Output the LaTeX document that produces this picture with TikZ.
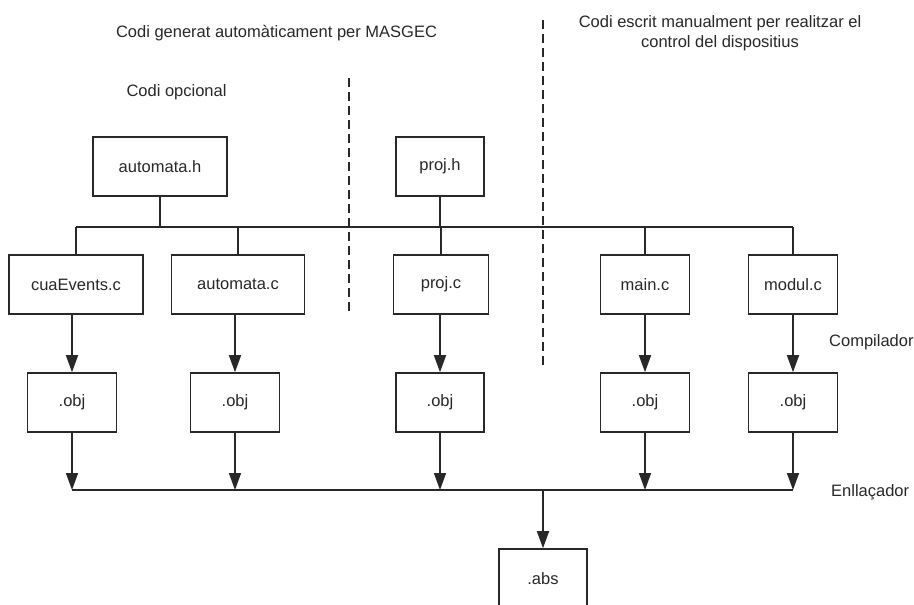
\documentclass[tikz,border=0pt]{standalone}
\usepackage{fontspec}
\setmainfont{Liberation Sans}
\usetikzlibrary{arrows.meta}
\definecolor{ink}{RGB}{40,40,40}
\begin{document}
\begin{tikzpicture}[x=1pt,y=-1pt,
  every node/.style={font=\fontsize{16.5}{20}\selectfont, text=ink},
  filebox/.style={draw=ink, line width=1.6pt, minimum height=59pt, inner sep=0pt},
  wire/.style={draw=ink, line width=1.6pt},
  flow/.style={wire, -{Triangle[width=12pt,length=17pt]}},
  divider/.style={draw=ink, line width=1.5pt, dash pattern=on 9pt off 5pt},
  caption/.style={align=center}]
\useasboundingbox (0,0) rectangle (914,605);
\clip (0,0) rectangle (914,605);
\fill[white] (0,0) rectangle (914,605);

% headings
\node[caption] (hgen) at (276.5,33) {Codi generat automàticament per MASGEC};
\node[caption] (hman) at (720,33) {Codi escrit manualment per realitzar el\\control del dispositius};
\node[anchor=west] (hopt) at (123,92) {Codi opcional};
\node[anchor=west, inner xsep=0pt] (hcomp) at (829,342) {Compilador};
\node[anchor=west, inner xsep=0pt] (hlink) at (831,492) {Enllaçador};

% section dividers
\coordinate (d1a) at (349,78);  \coordinate (d1b) at (349,315);
\coordinate (d2a) at (543,20);  \coordinate (d2b) at (543,368);
\path[divider] (d1a) -- (d1b);
\path[divider] (d2a) -- (d2b);

% headers
\node[filebox, minimum width=134pt] (ah) at (160,166.5) {automata.h};
\node[filebox, minimum width=88pt]  (ph) at (440,166.5) {proj.h};

% sources
\node[filebox, minimum width=134pt] (cua) at (76,284.5)  {cuaEvents.c};
\node[filebox, minimum width=133pt] (amc) at (238,284.5) {automata.c};
\node[filebox, minimum width=95pt]  (pc)  at (441,284.5) {proj.c};
\node[filebox, minimum width=89pt]  (mc)  at (645,284.5) {main.c};
\node[filebox, minimum width=89pt]  (moc) at (793,284.5) {modul.c};

% objects
\node[filebox, minimum width=89pt] (o1) at (72,402.5)  {.obj};
\node[filebox, minimum width=89pt] (o2) at (235,402.5) {.obj};
\node[filebox, minimum width=88pt] (o3) at (440,402.5) {.obj};
\node[filebox, minimum width=89pt] (o4) at (645,402.5) {.obj};
\node[filebox, minimum width=89pt] (o5) at (793,402.5) {.obj};

% executable
\node[filebox, minimum width=88pt] (abs) at (543,578.5) {.abs};

% include bus
\coordinate (tbus) at (0,227);
\path[wire] (cua.north |- tbus) -- (moc.north |- tbus);
\path[wire] (ah.south) -- (ah.south |- tbus);
\path[wire] (ph.south) -- (ph.south |- tbus);
\foreach \n in {cua,amc,pc,mc,moc}
  \path[wire] (\n.north |- tbus) -- (\n.north);

% compile step
\path[flow] (cua.south -| o1.north) -- (o1.north);
\path[flow] (amc.south -| o2.north) -- (o2.north);
\path[flow] (pc.south -| o3.north)  -- (o3.north);
\path[flow] (mc.south -| o4.north)  -- (o4.north);
\path[flow] (moc.south -| o5.north) -- (o5.north);

% link step
\coordinate (lbus) at (0,490);
\path[wire] (o1.south |- lbus) -- (o5.south |- lbus);
\foreach \n in {o1,o2,o3,o4,o5}
  \path[flow] (\n.south) -- (\n.south |- lbus);
\path[flow] (abs.north |- lbus) -- (abs.north);
\end{tikzpicture}
\end{document}
